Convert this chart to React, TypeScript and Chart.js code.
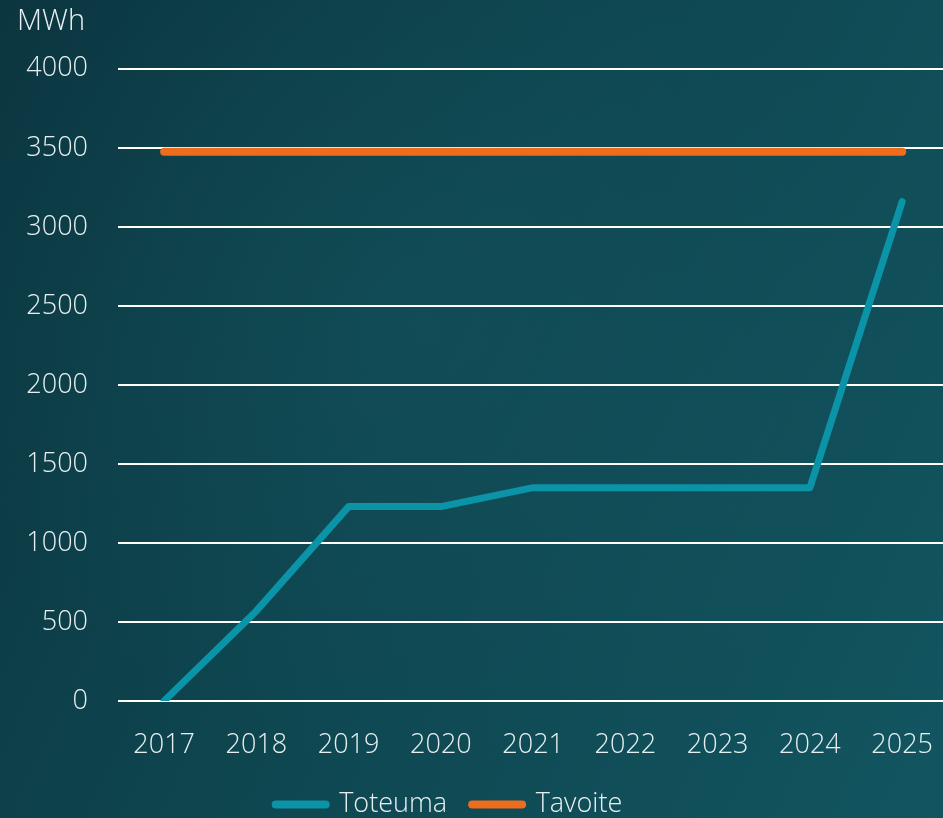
import React, { useEffect, useRef } from "react";
import { Chart, registerables } from "chart.js";

Chart.register(...registerables);

const years = ["2017", "2018", "2019", "2020", "2021", "2022", "2023", "2024", "2025"];
const toteuma = [0, 570, 1230, 1230, 1350, 1350, 1350, 1350, 3160];
const tavoite = [3475, 3475, 3475, 3475, 3475, 3475, 3475, 3475, 3475];
const yTicks = [0, 500, 1000, 1500, 2000, 2500, 3000, 3500, 4000];
const unitLabel = "MWh";

const FONT = "'Open Sans', 'Noto Sans', sans-serif";
const TEXT = "#e8eff1";
const font = { family: FONT, size: 27, weight: 300 as any };

const shiftLegend = {
  id: "shiftLegend",
  afterLayout(c: any) {
    if (c.legend) {
      c.legend.left -= 40;
      c.legend.right -= 40;
    }
  },
};

export default function App() {
  const ref = useRef<HTMLCanvasElement | null>(null);
  useEffect(() => {
    if (!ref.current) return;
    const chart = new Chart(ref.current, {
      type: "line",
      data: {
        labels: years,
        datasets: [
          {
            label: "Toteuma",
            data: toteuma,
            borderColor: "#0b93a7",
            backgroundColor: "#0b93a7",
            borderWidth: 7,
            pointRadius: 0,
            borderCapStyle: "round",
            borderJoinStyle: "round",
            tension: 0,
          },
          {
            label: "Tavoite",
            data: tavoite,
            borderColor: "#ee6c1c",
            backgroundColor: "#ee6c1c",
            borderWidth: 8,
            pointRadius: 0,
            borderCapStyle: "round",
            borderJoinStyle: "round",
            tension: 0,
          },
        ],
      },
      plugins: [shiftLegend],
      options: {
        responsive: false,
        animation: false,
        layout: { padding: { left: 17, right: 0, top: 0, bottom: 0 } },
        plugins: {
          title: {
            display: true,
            text: unitLabel,
            align: "start",
            color: TEXT,
            font: { family: FONT, size: 29, weight: 300 as any },
            padding: { top: 4, bottom: 30 },
          },
          legend: {
            position: "bottom",
            labels: {
              color: TEXT,
              font,
              usePointStyle: true,
              pointStyle: "line",
              pointStyleWidth: 50,
              padding: 25,
              generateLabels: (c: any) =>
                Chart.defaults.plugins.legend.labels
                  .generateLabels(c)
                  .map((l: any) => ({ ...l, lineCap: "round", lineWidth: 8 })),
            },
          },
          tooltip: { enabled: false },
        },
        scales: {
          x: {
            offset: true,
            afterFit: (s: any) => {
              s.height = 65;
            },
            grid: { display: false, drawTicks: false },
            border: { display: false },
            ticks: { color: TEXT, font, padding: 28 },
          },
          y: {
            min: 0,
            max: 4000,
            afterFit: (s: any) => {
              s.width = 101;
            },
            afterBuildTicks: (s: any) => {
              s.ticks = yTicks.map((v) => ({ value: v }));
            },
            grid: { color: "#ffffff", lineWidth: 2, drawTicks: false },
            border: { display: false },
            ticks: {
              color: TEXT,
              font,
              padding: 30,
              callback: (v: any) => String(v),
            },
          },
        },
      },
    });
    return () => chart.destroy();
  }, []);
  return (
    <div
      style={{
        position: "absolute",
        left: 0,
        top: 0,
        width: 943,
        height: 818,
        overflow: "hidden",
        background:
          "radial-gradient(ellipse at 45% 40%, rgba(22,85,95,0.45), rgba(0,0,0,0) 65%), linear-gradient(115deg, #0b3640 0%, #0e4650 45%, #125560 100%)",
      }}
    >
      <canvas ref={ref} width={961} height={828} />
    </div>
  );
}
